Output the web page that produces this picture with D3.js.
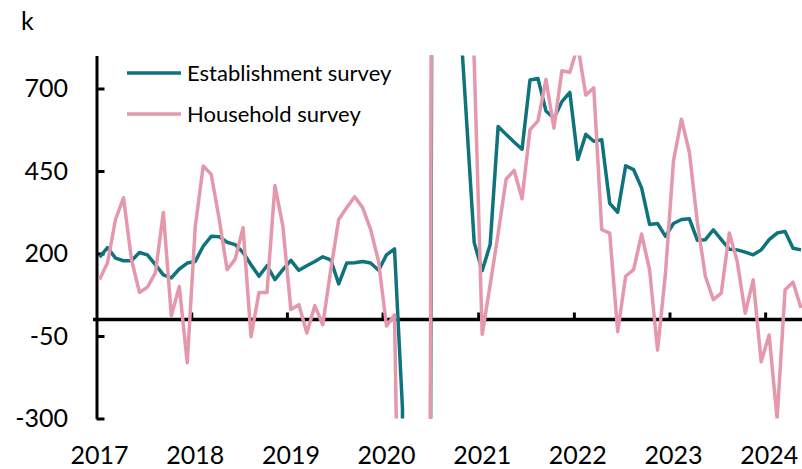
<!DOCTYPE html>
<html>
<head>
<meta charset="utf-8">
<script src="https://cdn.jsdelivr.net/npm/d3@7"></script>
<style>
  html, body { margin: 0; padding: 0; background: #fff; overflow: hidden; }
  svg { display: block; font-family: Lato, "Open Sans", sans-serif; }
</style>
</head>
<body>
<svg id="chart" width="802" height="469"></svg>
<script>
// ---- Data (monthly changes, thousands) Jan 2017 – May 2024 ----
const years = [2017, 2018, 2019, 2020, 2021, 2022, 2023, 2024];
const monthsPerYear = 12;
const nMonths = 89;
const seriesNames = ["Establishment survey", "Household survey"];

const establishment = [
  189, 218, 186, 178, 178, 203, 196, 166, 135, 126, 153, 171,
  176, 222, 252, 251, 234, 227, 203, 166, 131, 163, 121, 151,
  179, 149, 163, 176, 190, 181, 108, 171, 172, 176, 171, 149,
  196, 214, -270, -20500, -12000, -5200, 4000, 3000, 2000, 1000, 620, 233,
  148, 227, 585, 561, 538, 516, 726, 730, 632, 610, 660, 688,
  485, 561, 540, 545, 352, 325, 466, 454, 399, 288, 291, 252,
  291, 303, 305, 240, 242, 272, 242, 213, 211, 204, 196, 211,
  242, 262, 267, 216, 211
];
const household = [
  121, 172, 303, 369, 182, 82, 98, 141, 324, 11, 100, -131,
  280, 465, 440, 305, 151, 182, 278, -52, 82, 82, 406, 282,
  30, 45, -41, 42, -16, 150, 303, 339, 372, 339, 273, 176,
  -20, 14, -1400, -22000, -7000, -5000, 4500, 3500, 2500, 2000, 1200, 785,
  -45, 105, 260, 425, 452, 366, 575, 602, 727, 580, 754, 749,
  830, 680, 702, 272, 262, -37, 131, 151, 259, 151, -93, 141,
  481, 607, 506, 293, 131, 60, 80, 262, 176, 19, 120, -128,
  -47, -300, 90, 113, 35
];
const yTicks = [-300, -50, 200, 450, 700];
const yUnit = "k";

const colors = { establishment: "#0f737e", household: "#e598ab" };

// ---- Layout ----
const svg = d3.select("#chart");
const plot = { left: 95.6, right: 805, top: 55.5, bottom: 418.5 };

const x = d3.scaleBand().domain(d3.range(nMonths)).range([plot.left, plot.right]).paddingInner(0).paddingOuter(0);
const xm = d3.scaleLinear().domain([0, nMonths]).range([plot.left, plot.right]);
const y = d3.scaleLinear().domain([-300, 800]).range([plot.bottom, plot.top]);
const cx = i => x(i) + x.bandwidth() / 2;

svg.append("defs").append("clipPath").attr("id", "clip")
  .append("rect").attr("x", plot.left).attr("y", plot.top)
  .attr("width", plot.right - plot.left).attr("height", plot.bottom - plot.top);

// Y axis (ticks pointing inward, labels on the left)
const yAxis = d3.axisLeft(y).tickValues(yTicks).tickSizeInner(-8).tickSizeOuter(0)
  .tickPadding(28.5).tickFormat(d => String(d));
const gy = svg.append("g").attr("transform", "translate(96.5,0)").call(yAxis);
gy.select(".domain").attr("stroke", "#000").attr("stroke-width", 3);
gy.selectAll(".tick line").attr("stroke", "#000").attr("stroke-width", 3);
gy.selectAll(".tick text").attr("font-size", 25).attr("fill", "#000")
  .attr("font-family", "Lato, sans-serif");

// Zero line with year-boundary tick marks (pointing up)
const yearBoundaries = years.slice(1).map((yr, k) => (k + 1) * monthsPerYear);
const zeroAxis = d3.axisTop(xm).tickValues(yearBoundaries).tickSizeInner(7).tickSizeOuter(0).tickFormat("");
const gz = svg.append("g").attr("transform", `translate(0,${y(0)})`).call(zeroAxis);
gz.select(".domain").attr("stroke", "#000").attr("stroke-width", 3.5)
  .attr("d", `M${93},0H${802}`);
gz.selectAll(".tick line").attr("stroke", "#000").attr("stroke-width", 3);

// Year labels under the plot, centred on January of each year
const labelAxis = d3.axisBottom(x).tickValues(years.map((yr, k) => k * monthsPerYear))
  .tickSize(0).tickPadding(0).tickFormat((d, k) => String(years[k]));
const gl = svg.append("g").attr("transform", "translate(0,446)").call(labelAxis);
gl.select(".domain").remove();
gl.selectAll(".tick text").attr("font-size", 25).attr("fill", "#000")
  .attr("font-family", "Lato, sans-serif").attr("dy", "0.71em");

// Unit label
svg.append("text").attr("x", 21).attr("y", 30).attr("font-size", 25).attr("fill", "#000").text(yUnit);

// Lines
const line = d3.line().x((d, i) => cx(i)).y(d => y(d));
const gLines = svg.append("g").attr("clip-path", "url(#clip)");
gLines.append("path").datum(establishment).attr("d", line)
  .attr("fill", "none").attr("stroke", colors.establishment).attr("stroke-width", 3.5)
  .attr("stroke-linejoin", "round");
gLines.append("path").datum(household).attr("d", line)
  .attr("fill", "none").attr("stroke", colors.household).attr("stroke-width", 3.5)
  .attr("stroke-linejoin", "round");

// Legend
const legend = [
  { name: seriesNames[0], color: colors.establishment, y: 73 },
  { name: seriesNames[1], color: colors.household, y: 114 }
];
const lg = svg.append("g");
legend.forEach(l => {
  lg.append("line").attr("x1", 127).attr("x2", 181).attr("y1", l.y).attr("y2", l.y)
    .attr("stroke", l.color).attr("stroke-width", 3.5);
  lg.append("text").attr("x", 187).attr("y", l.y + 8.3).attr("font-size", 22)
    .attr("fill", "#000").text(l.name);
});
</script>
</body>
</html>
